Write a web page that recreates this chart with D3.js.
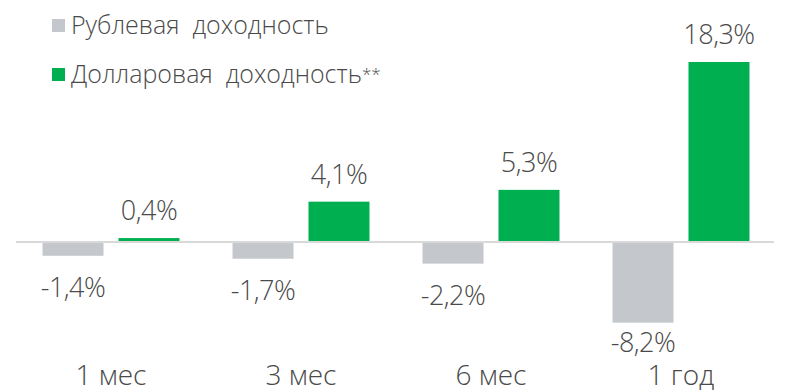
<!DOCTYPE html>
<html>
<head>
<meta charset="utf-8">
<script src="https://cdn.jsdelivr.net/npm/d3@7"></script>
<style>
  body { margin: 0; background: #fff; }
  text { font-family: "Open Sans", "Noto Sans", sans-serif; font-weight: 300; fill: #4a4a4a; }
</style>
</head>
<body>
<script>
var width = 797;
var height = 392;

// data
var categories = ['1 мес', '3 мес', '6 мес', '1 год'];
var series = ['Рублевая  доходность', 'Долларовая  доходность**'];
var rubValues = [-1.4, -1.7, -2.2, -8.2];
var usdValues = [0.4, 4.1, 5.3, 18.3];
var valueLabels = [
  ['-1,4%', '-1,7%', '-2,2%', '-8,2%'],
  ['0,4%', '4,1%', '5,3%', '18,3%']
];
var colors = ['#c4c8cc', '#00b050'];

var svg = d3.select('body')
    .append('svg')
    .attr('width', width)
    .attr('height', height);

var x0 = d3.scaleBand()
    .domain(categories)
    .range([16, 776])
    .padding(0);

var x1 = d3.scaleBand()
    .domain(series)
    .range([0, x0.bandwidth()])
    .paddingInner(0.197)
    .paddingOuter(0.349);

var y = d3.scaleLinear()
    .domain([0, 18.3])
    .range([242, 62]);

var rows = categories.map(function(c, i) {
    return [
        {cat: c, s: series[0], v: rubValues[i], label: valueLabels[0][i], k: 0},
        {cat: c, s: series[1], v: usdValues[i], label: valueLabels[1][i], k: 1}
    ];
});

var groups = svg.selectAll('g.group')
    .data(rows)
    .enter().append('g')
    .attr('class', 'group')
    .attr('transform', function(d, i) { return 'translate(' + x0(categories[i]) + ',0)'; });

groups.selectAll('rect')
    .data(function(d) { return d; })
    .enter().append('rect')
    .attr('x', function(d) { return x1(d.s); })
    .attr('width', x1.bandwidth())
    .attr('y', function(d) { return y(Math.max(0, d.v)); })
    .attr('height', function(d) { return Math.abs(y(d.v) - y(0)); })
    .style('fill', function(d) { return colors[d.k]; });

groups.selectAll('text.val')
    .data(function(d) { return d; })
    .enter().append('text')
    .attr('class', 'val')
    .attr('x', function(d) { return x1(d.s) + x1.bandwidth() / 2; })
    .attr('y', function(d) {
        // labels under negative bars sit lower, but stay above the axis labels
        return d.v >= 0 ? y(d.v) - 18 : Math.min(y(d.v) + 41, 352);
    })
    .attr('text-anchor', 'middle')
    .style('font-size', '27px')
    .style('letter-spacing', '-0.5px')
    .text(function(d) { return d.label; });

// zero line
svg.append('line')
    .attr('x1', 16).attr('x2', 774)
    .attr('y1', y(0)).attr('y2', y(0))
    .style('stroke', '#d9d9d9')
    .style('stroke-width', 2);

// category axis labels
svg.selectAll('text.cat')
    .data(categories)
    .enter().append('text')
    .attr('class', 'cat')
    .attr('x', function(d) { return x0(d) + x0.bandwidth() / 2; })
    .attr('y', 385)
    .attr('text-anchor', 'middle')
    .style('font-size', '28px')
    .text(function(d) { return d; });

// legend
var legend = svg.selectAll('g.legend')
    .data(series)
    .enter().append('g')
    .attr('class', 'legend')
    .attr('transform', function(d, i) { return 'translate(52,' + (19 + i * 49) + ')'; });

legend.append('rect')
    .attr('width', 13)
    .attr('height', 13)
    .style('fill', function(d, i) { return colors[i]; });

var legendText = legend.append('text')
    .attr('x', 19)
    .attr('y', 15)
    .style('font-size', '25px')
    .style('white-space', 'pre');

// main name, then the footnote stars smaller
legendText.append('tspan')
    .text(function(d) { return d.replace('**', ''); });

legendText.filter(function(d) { return d.indexOf('**') >= 0; })
    .append('tspan')
    .style('font-size', '17px')
    .attr('dy', -3)
    .text('**');
</script>
</body>
</html>
